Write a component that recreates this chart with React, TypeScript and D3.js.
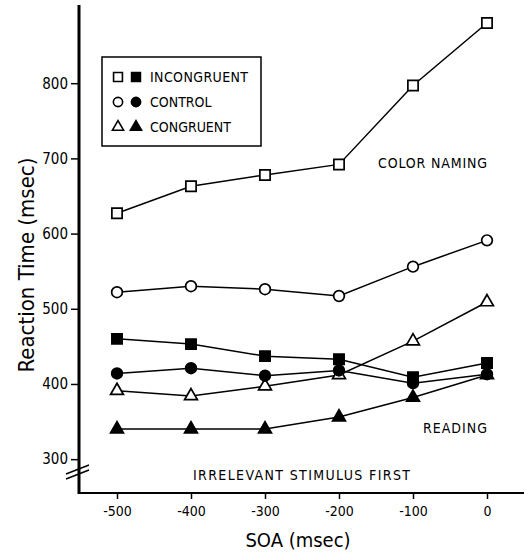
import React, { useEffect, useRef } from "react";
import * as d3 from "d3";

const soaValues = [-500, -400, -300, -200, -100, 0];
const soaLabels = ["-500", "-400", "-300", "-200", "-100", "0"];
const yTicks = [300, 400, 500, 600, 700, 800];

// color naming (open markers)
const colorIncongruent = [627, 663, 678, 692, 797, 880];
const colorControl = [522, 530, 526, 517, 556, 591];
const colorCongruent = [391, 384, 397, 412, 457, 509];

// reading (filled markers)
const readingIncongruent = [460, 453, 437, 433, 409, 428];
const readingControl = [414, 421, 411, 418, 401, 413];
const readingCongruent = [340, 340, 340, 356, 382, 412];

const legendItems = [
  { label: "INCONGRUENT", shape: "square" },
  { label: "CONTROL", shape: "circle" },
  { label: "CONGRUENT", shape: "triangle" },
];

const FONT = "'DejaVu Sans Condensed', 'DejaVu Sans', sans-serif";

const App = () => {
  const svgRef = useRef<SVGSVGElement>(null);
  const width = 529;
  const height = 554;

  useEffect(() => {
    const svg = d3.select(svgRef.current);
    svg.selectAll("*").remove();

    const xScale = d3.scaleLinear().domain([-550, 50]).range([80, 524]);
    const yScale = d3.scaleLinear().domain([255, 904]).range([493, 5]);

    const symbolFor = (shape: string) =>
      shape === "square" ? d3.symbolSquare : shape === "circle" ? d3.symbolCircle : d3.symbolTriangle;
    const sizeFor = (shape: string) => (shape === "square" ? 105 : shape === "circle" ? 90 : 72);

    // axes
    const yAxis = svg
      .append("g")
      .attr("transform", "translate(79,0)")
      .call(d3.axisLeft(yScale).tickValues(yTicks).tickSize(8).tickSizeOuter(0));
    yAxis.select(".domain").remove();
    yAxis.selectAll("line").attr("stroke", "#000").attr("stroke-width", 1.5);
    yAxis
      .selectAll("text")
      .attr("font-family", FONT)
      .attr("font-size", 15)
      .attr("fill", "#000")
      .attr("x", -11);

    const xAxis = svg
      .append("g")
      .attr("transform", "translate(0,493)")
      .call(
        d3.axisBottom(xScale)
          .tickValues(soaValues)
          .tickFormat((d, i) => soaLabels[i])
          .tickSize(6)
          .tickSizeOuter(0)
      );
    xAxis.select(".domain").remove();
    xAxis.selectAll("line").attr("stroke", "#000").attr("stroke-width", 1.5);
    xAxis
      .selectAll("text")
      .attr("font-family", FONT)
      .attr("font-size", 14)
      .attr("fill", "#000")
      .attr("y", 13);

    // axis lines
    svg.append("line")
      .attr("x1", 79).attr("x2", 79).attr("y1", 5).attr("y2", 494)
      .attr("stroke", "#000").attr("stroke-width", 3);
    svg.append("line")
      .attr("x1", 78).attr("x2", 524).attr("y1", 493).attr("y2", 493)
      .attr("stroke", "#000").attr("stroke-width", 2);

    // axis break marks
    [0, 5].forEach((off) => {
      svg.append("line")
        .attr("x1", 66).attr("y1", 474 + off)
        .attr("x2", 89).attr("y2", 465 + off)
        .attr("stroke", "#000").attr("stroke-width", 1.5);
    });

    // axis titles
    svg.append("text")
      .attr("transform", "translate(34,265) rotate(-90)")
      .attr("text-anchor", "middle")
      .attr("font-family", FONT)
      .attr("font-size", 22)
      .attr("fill", "#000")
      .text("Reaction Time (msec)");
    svg.append("text")
      .attr("x", 298).attr("y", 547)
      .attr("text-anchor", "middle")
      .attr("font-family", FONT)
      .attr("font-size", 20)
      .attr("fill", "#000")
      .text("SOA (msec)");

    const series = [
      { values: colorIncongruent, shape: "square", filled: false },
      { values: colorControl, shape: "circle", filled: false },
      { values: colorCongruent, shape: "triangle", filled: false },
      { values: readingIncongruent, shape: "square", filled: true },
      { values: readingControl, shape: "circle", filled: true },
      { values: readingCongruent, shape: "triangle", filled: true },
    ];

    const line = d3
      .line<number>()
      .x((d, i) => xScale(soaValues[i]))
      .y((d) => yScale(d));

    series.forEach((s) => {
      svg.append("path")
        .attr("d", line(s.values))
        .attr("fill", "none")
        .attr("stroke", "#000")
        .attr("stroke-width", 1.5);
    });

    series.forEach((s) => {
      svg.selectAll(null)
        .data(s.values)
        .enter()
        .append("path")
        .attr("d", d3.symbol().type(symbolFor(s.shape)).size(sizeFor(s.shape))())
        .attr("transform", (d, i) => `translate(${xScale(soaValues[i])},${yScale(d)})`)
        .attr("fill", s.filled ? "#000" : "#fff")
        .attr("stroke", "#000")
        .attr("stroke-width", 1.7);
    });

    // legend
    const legend = svg.append("g");
    legend.append("rect")
      .attr("x", 102).attr("y", 57).attr("width", 159).attr("height", 89)
      .attr("fill", "#fff").attr("stroke", "#000").attr("stroke-width", 1.5);
    legendItems.forEach((item, i) => {
      const y = 77 + i * 25;
      legend.append("path")
        .attr("d", d3.symbol().type(symbolFor(item.shape)).size(sizeFor(item.shape) * 0.75)())
        .attr("transform", `translate(118,${y})`)
        .attr("fill", "#fff").attr("stroke", "#000").attr("stroke-width", 1.6);
      legend.append("path")
        .attr("d", d3.symbol().type(symbolFor(item.shape)).size(sizeFor(item.shape) * 0.75)())
        .attr("transform", `translate(136,${y})`)
        .attr("fill", "#000").attr("stroke", "#000").attr("stroke-width", 1.6);
      legend.append("text")
        .attr("x", 150).attr("y", y + 5)
        .attr("font-family", FONT)
        .attr("font-size", 14)
        .attr("fill", "#000")
        .attr("textLength", item.label === "INCONGRUENT" ? 98 : null)
        .text(item.label);
    });

    // annotations
    const note = (txt: string, x: number, y: number, len: number) =>
      svg.append("text")
        .attr("x", x).attr("y", y)
        .attr("font-family", FONT)
        .attr("font-size", 14)
        .attr("fill", "#000")
        .attr("textLength", len)
        .attr("lengthAdjust", "spacing")
        .text(txt);
    note("COLOR NAMING", 378, 168, 109);
    note("READING", 423, 433, 64);
    note("IRRELEVANT STIMULUS FIRST", 193, 480, 217);
  }, []);

  return (
    <svg
      ref={svgRef}
      width={width}
      height={height}
      style={{ position: "absolute", left: 0, top: 0, background: "#fff" }}
    ></svg>
  );
};

export default App;
